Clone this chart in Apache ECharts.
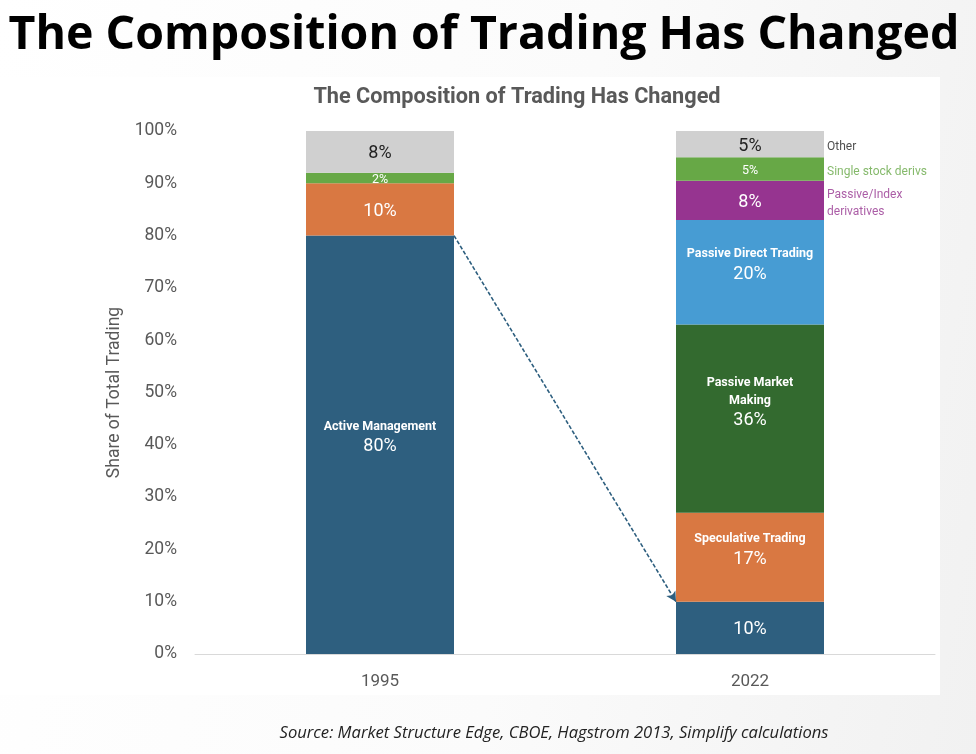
<!DOCTYPE html>
<html>
<head>
<meta charset="utf-8">
<title>The Composition of Trading Has Changed</title>
<script src="https://cdn.jsdelivr.net/npm/echarts@6/dist/echarts.min.js"></script>
<style>
html, body { margin: 0; padding: 0; }
body { width: 976px; height: 754px; position: relative; overflow: hidden;
       background: linear-gradient(100deg, #ffffff 0%, #fbfbfb 55%, #f1f1f1 100%); }
#panel { position: absolute; left: 0; top: 77px; width: 940px; height: 618px; background: #fff; }
#main { position: absolute; left: 0; top: 0; width: 976px; height: 754px; }
</style>
</head>
<body>
<div id="panel"></div>
<div id="main"></div>
<script>
// categories
var years = ['1995', '2022'];

// share of total trading (%), per year, bottom to top of the stack
var activeMgmt        = [80, 10];
var speculative       = [10, 17];
var passiveMM         = [null, 36];
var passiveDirect     = [null, 20];
var passiveIndexDeriv = [null, 7.5];
var singleStock       = [2, 4.5];
var other             = [8, 5];

var seriesNames  = ['Active Management', 'Speculative Trading', 'Passive Market Making',
                    'Passive Direct Trading', 'Passive/Index derivatives', 'Single stock derivs', 'Other'];
var seriesValues = [activeMgmt, speculative, passiveMM, passiveDirect, passiveIndexDeriv, singleStock, other];

// names written inside the bars (per year) and beside the 2022 bar
var inBarNames = [
    ['Active Management', ''],
    ['', 'Speculative Trading'],
    ['', 'Passive Market\nMaking'],
    ['', 'Passive Direct Trading'],
    ['', ''],
    ['', ''],
    ['', '']
];
var sideNames = ['', '', '', '', 'Passive/Index\nderivatives', 'Single stock derivs', 'Other'];

// styles
var seriesColors = ['#2e5f7f', '#d97842', '#336a2f', '#479cd3', '#963490', '#67a846', '#d0d0d0'];
var labelColors  = ['#fff', '#fff', '#fff', '#fff', '#fff', '#fff', '#222'];
var pctSizes     = [18, 18, 18, 18, 18, 12.5, 18];
var sideColors   = ['#222', '#222', '#222', '#222', '#963490', '#67a846', '#222'];

var chart = echarts.init(document.getElementById('main'), null, { renderer: 'canvas' });

var series = seriesNames.map(function (name, i) {
    return {
        name: name,
        type: 'bar',
        stack: 'total',
        barWidth: '40%',
        itemStyle: { color: seriesColors[i] },
        label: {
            show: true,
            position: 'inside',
            rich: {
                n: { color: labelColors[i], fontFamily: 'Roboto', fontWeight: 'bold', fontSize: 12.5, lineHeight: 18 },
                p: { color: labelColors[i], fontFamily: 'Roboto', fontSize: pctSizes[i], lineHeight: 22 }
            }
        },
        data: seriesValues[i].map(function (v, j) {
            if (v == null) return null;
            var nm = inBarNames[i][j];
            var lines = nm ? nm.split('\n').length : 0;
            var txt = (nm ? '{n|' + nm.split('\n').join('}\n{n|') + '}\n' : '') + '{p|' + Math.round(v) + '%}';
            return { value: v, label: { formatter: txt, offset: [0, 2 - 9 * lines] } };
        })
    };
});

var option = {
    animation: false,
    backgroundColor: 'transparent',
    grid: { left: 195, right: 41, top: 131, bottom: 100, containLabel: false },
    xAxis: {
        type: 'category',
        data: years,
        axisTick: { show: false },
        axisLine: { lineStyle: { color: '#d9d9d9', width: 1 } },
        axisLabel: { color: '#595959', fontFamily: 'Roboto', fontSize: 17, margin: 19 }
    },
    yAxis: {
        type: 'value',
        min: 0,
        max: 100,
        interval: 10,
        name: 'Share of Total Trading',
        nameLocation: 'middle',
        nameGap: 69,
        nameRotate: 90,
        nameTextStyle: { color: '#595959', fontFamily: 'Roboto', fontSize: 17.5 },
        axisLine: { show: false },
        axisTick: { show: false },
        splitLine: { show: false },
        axisLabel: { formatter: '{value}%', color: '#595959', fontFamily: 'Roboto', fontSize: 17.5, margin: 18 }
    },
    graphic: [
        { type: 'text', x: 484, y: 36, style: { text: 'The Composition of Trading Has Changed',
            fill: '#000', font: 'bold 46.5px "Open Sans"', align: 'center', verticalAlign: 'middle' } },
        { type: 'text', x: 517, y: 98, style: { text: 'The Composition of Trading Has Changed',
            fill: '#595959', font: 'bold 21.7px Roboto', align: 'center', verticalAlign: 'middle' } },
        { type: 'text', x: 554, y: 733, style: { text: 'Source: Market Structure Edge, CBOE, Hagstrom 2013, Simplify calculations',
            fill: '#222', font: 'italic 16.6px "Open Sans"', align: 'center', verticalAlign: 'middle' } }
    ],
    series: series
};

chart.setOption(option);

// pixel geometry from the axes, for the arrow and the side labels
var x95 = chart.convertToPixel({ xAxisIndex: 0 }, years[0]);
var x22 = chart.convertToPixel({ xAxisIndex: 0 }, years[1]);
var half = (x22 - x95) * 0.4 / 2;

var sideData = [];
var cum = 0;
seriesValues.forEach(function (vals, i) {
    var v = vals[1];
    if (v == null) return;
    if (sideNames[i]) {
        sideData.push({
            value: [years[1], cum + v / 2],
            label: { formatter: sideNames[i], color: sideColors[i] }
        });
    }
    cum += v;
});

series[0].markLine = {
    silent: true,
    symbol: ['none', 'arrow'],
    symbolSize: [8, 10],
    label: { show: false },
    lineStyle: { type: [4, 2], color: '#2e5f7f', width: 1.6 },
    data: [[
        { x: x95 + half, y: chart.convertToPixel({ yAxisIndex: 0 }, activeMgmt[0]) },
        { x: x22 - half, y: chart.convertToPixel({ yAxisIndex: 0 }, activeMgmt[1]) }
    ]]
};

series.push({
    name: 'side labels',
    type: 'scatter',
    symbol: 'rect',
    symbolSize: [half * 2, 1],
    itemStyle: { color: 'rgba(0,0,0,0)' },
    silent: true,
    label: {
        show: true,
        position: 'right',
        distance: 3,
        offset: [0, 3],
        fontFamily: 'Roboto',
        fontSize: 12,
        lineHeight: 17,
        align: 'left'
    },
    data: sideData
});

chart.setOption({ series: series });
</script>
</body>
</html>
